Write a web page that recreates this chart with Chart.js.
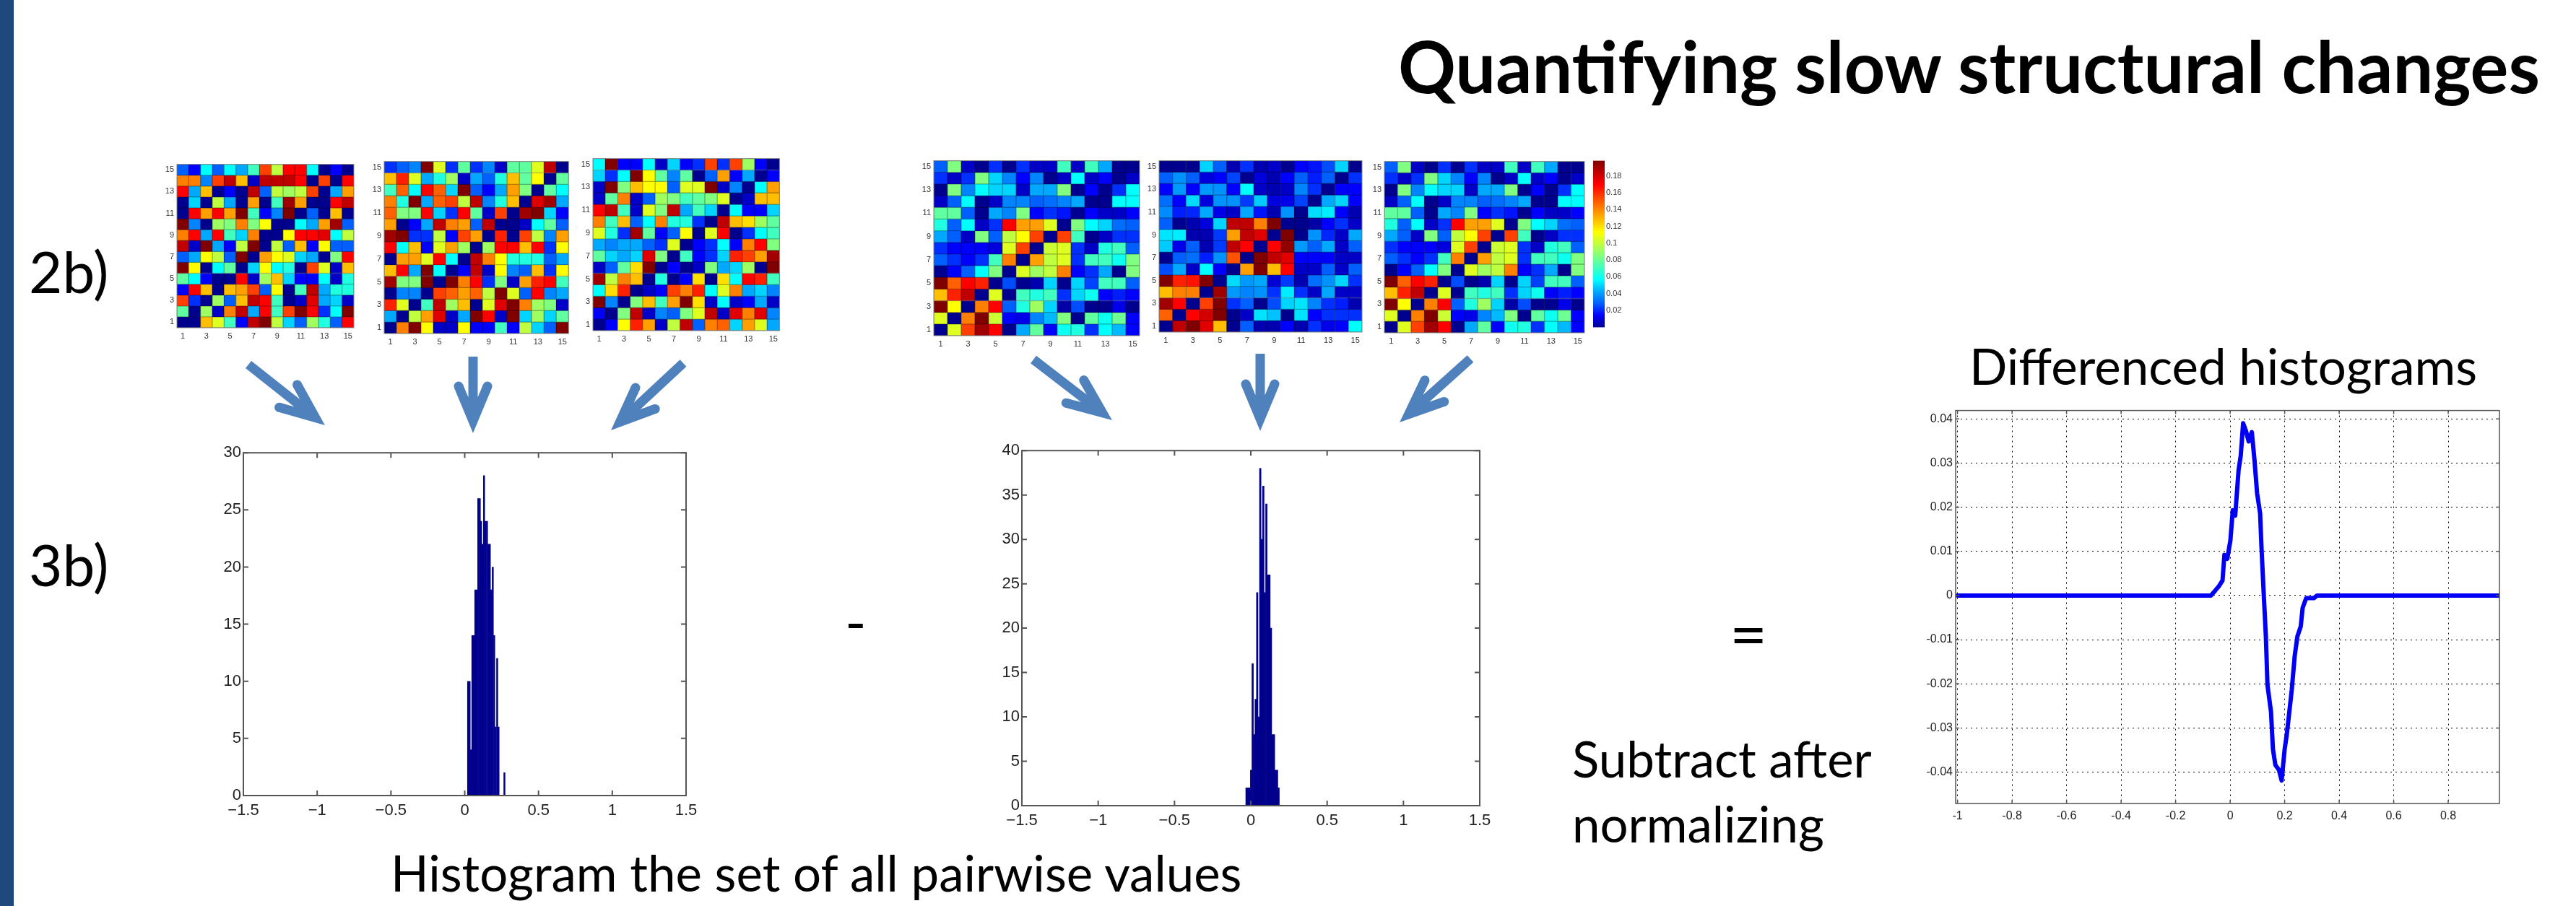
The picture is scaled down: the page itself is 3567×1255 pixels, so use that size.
<!DOCTYPE html>
<html>
<head>
<meta charset="utf-8">
<title>Quantifying slow structural changes</title>
<script src="https://cdn.jsdelivr.net/npm/chart.js@4"></script>
<style>
html, body { margin: 0; padding: 0; background: #fff; }
#slide { position: relative; width: 3567px; height: 1255px; overflow: hidden; background: #fff; }
#leftbar { position: absolute; left: 0; top: 0; width: 19px; height: 1255px; background: #1f497d; }
canvas { position: absolute; }
.heat { filter: blur(0.5px); }
.txt { position: absolute; font-family: Lato, sans-serif; color: #000; white-space: nowrap; line-height: 1; }
svg { position: absolute; left: 0; top: 0; }
</style>
</head>
<body>
<div id="slide">
  <div id="leftbar"></div>
  <div class="txt" style="left:1936px;top:41px;font-size:99px;font-weight:700;">Quantifying slow structural changes</div>
  <div class="txt" style="left:40px;top:335px;font-size:80px;">2b)</div>
  <div class="txt" style="left:40px;top:741px;font-size:80px;">3b)</div>
  <div class="txt" style="left:541px;top:1174px;font-size:69px;">Histogram the set of all pairwise values</div>
  <div class="txt" style="left:1170px;top:820px;font-size:80px;">-</div>
  <div class="txt" style="left:2395px;top:831px;font-size:90px;">=</div>
  <div class="txt" style="left:2177px;top:1016px;font-size:69px;">Subtract after</div>
  <div class="txt" style="left:2177px;top:1106px;font-size:69px;">normalizing</div>
  <div class="txt" style="left:2727px;top:472px;font-size:69px;">Differenced histograms</div>
  <svg id="arrows" width="3567" height="1255" viewBox="0 0 3567 1255"></svg>
</div>
<script>
// jet colour levels used to read the heatmaps (0 = navy ... 14 = dark red)
const jetStops = ['#00008f','#0000ff','#0060ff','#00a8ff','#00ffff','#40ffbf','#80ff80','#bfff40','#ffff00','#ffbf00','#ff7f00','#ff4000','#ff0000','#c00000','#800000'];

const rowLabels = ['1','2','3','4','5','6','7','8','9','10','11','12','13','14','15'];
const heatTicks = [1,3,5,7,9,11,13,15];

// heatmap rows, first line is row 15 (top)
const heat1 = [
  [2,1,4,2,4,3,5,11,7,12,12,4,0,1,0],
  [10,10,2.5,11,13,9,0.5,13,13,13,12,0,11,0,12],
  [12,3,9,0,1,0,13,2,7,6.5,7,11,0,3,9.5],
  [0,3.5,0,7,3,0,9.5,0,5,13.5,9.5,0,0,12,13],
  [0,12,9.5,12,9.5,14,5,1,2.5,14,0,2,0,9,0],
  [14,2.5,0,6.5,6,10,6,8,0,0,4,3,9.5,13.5,2],
  [10,12,3,12,5,3.5,10,0,0,8,12,12,12.5,4,7],
  [13,0.5,14,3,1,7,14,0,7,2,9,1,8,2,2],
  [2,3,8,7,2,14,0,9.5,8,7.5,3.5,3,0,6,12],
  [14,8,0,4,5.5,0,3.5,8,4,4.5,0,11,7.5,0.5,9],
  [5.5,4,1,0,0,12,0.5,6.5,9,3.5,1,1,4,0.5,4.5],
  [1,12,9,0,9,9.5,11,2,8,0,5,13,3,4.5,4.5],
  [11,1.5,0,6.5,2,9,13,12,5,0,0.5,12.5,3,3.5,0.5],
  [5.5,0,6.5,0.5,10,13,3,12,5,11,14,12,1.5,4,14],
  [0,0,9,7.5,5,1,13,14,7,3.5,2,6.5,4.5,2,12]
];
const heat2 = [
  [1.5,2,2.5,14,7.5,1.5,5.5,1.5,2.5,0.5,5.5,5.5,7.5,13,0],
  [9,11.5,7.5,3,4.5,6.5,0.5,3,2,4.5,9,5.5,8,0,5.5],
  [5,10.5,4,12,10.5,3.5,14,2,1,3,9.5,6,0,5.5,4],
  [10,4.5,14,3,10.5,11,7,13,2.5,4.5,9,0,12.5,13.5,3],
  [10.5,6,6,12,3.5,1.5,12,5.5,0.5,11,0,13.5,14,3.5,1],
  [9.5,0,1,3,13,10,9.5,2,13,0,0,0.5,4,5.5,2],
  [13.5,14,1.5,1.5,7,1,11,9.5,0,11.5,0,11,7,2.5,9.5],
  [12,4,9,1,7.5,9.5,6.5,0,6.5,12,12,9,12,1.5,8],
  [0,9.5,9.5,7.5,12,4,0,13,10,8,4.5,4.5,4.5,2,3],
  [9,12,3,14,4,0,1,13,0.5,8,2.5,2,9,1.5,8],
  [13.5,6,6,14,0,14,10,12,1.5,6,0.5,9.5,11.5,12,5],
  [0,2.5,2.5,0,11,10.5,9.5,10.5,7,14,7.5,2,12,2.5,3],
  [11.5,7.5,0,5,13,6.5,9,0,7.5,12.5,14,10,6.5,6,0.5],
  [3,0,7,9.5,12.5,0.5,3,14,12,0.5,14,3.5,6.5,3.5,5.5],
  [0,10,14,8,0.5,0.5,8,1,1,5,1,7,3.5,2,14]
];
const heat3 = [
  [4,14,1,1,4,0.5,3.5,1,1.5,11,1.5,11,6.5,1,0],
  [3.5,1.5,4,14,8,5.5,2.5,5.5,0,2,9.5,1,3,0,1],
  [0.5,14,6,9,8,8,2,7.5,7.5,14,0.5,2.5,0,4,9.5],
  [0.5,5.5,10,0.5,2,6.5,6,5,5.5,6,7.5,0,0.5,9,9],
  [12,13,5,0.5,7.5,6,13,3,5,3.5,0,4,1,1,3.5],
  [10,5,9,2,4,10,4.5,4.5,1.5,0,13,9,8.5,6.5,5.5],
  [7.5,4.5,1.5,13.5,5.5,1,2,8,0,7.5,12,0,1.5,4,5],
  [3,2.5,3,3,2,1.5,7.5,0,1,1.5,4,1,10,12,6],
  [5.5,3.5,3,3.5,12.5,6,0,5,1,1.5,3.5,11.5,11,9.5,13.5],
  [0.5,2,5.5,8.5,14,0,1,0,0.5,6,3,3.5,6.5,0,14],
  [13.5,7,10,9,0,4.5,0,1,8.5,0,8.5,4,12,11.5,5],
  [4,8.5,11.5,0,0.5,1,11,10,11.5,4,7.5,10,3,3.5,2.5],
  [14,2.5,0,6,9,5,9.5,14,8.5,0.5,4,0.5,1,3,0.5],
  [1,0,6,13,0.5,2.5,2,6,7.5,13,0.5,12.5,10,12.5,2.5],
  [0,1,8,11.5,9.5,0.5,7,13,2,10,10.5,3.5,9.5,7.5,3]
];
const heat4 = [
  [2,6,0.5,0,1.5,0,1.5,0.5,0.5,5,0.5,5,3,0,0],
  [1.5,0.5,1.5,6,3.5,2.5,1,2.5,0,0.5,4,0.5,1,0,0.5],
  [0,6,2.5,4,3.5,3.5,0.5,3,3,6,0,1,0,1.5,4],
  [0.5,2,4,0,0.5,2.5,2.5,2,2.2,2.5,3,0,0,4,4],
  [5.5,5.5,2,0,3,2.5,6,1,1.5,1.2,0,1,0.5,0.5,1],
  [4.5,2,4,0.5,1.5,12,9.5,9.5,7.5,0,6,4,3.5,2.2,2],
  [3,2,0.5,6,2,7,8,11,0,11,5,0,0.5,1.5,1.5],
  [1.5,1,1,1,0.7,7.5,11,0,7.2,7.5,1.5,0.5,4.5,5,2],
  [2,1.5,1,1.5,5,10,0,9.5,7,7.5,1.5,5,5,4.2,6],
  [0,1,2,4,6,0,7.5,6.5,7,10,1,1.5,3,0,6],
  [14,10.5,12,11.5,0,1.8,0,0.3,3.5,0,3.5,1.7,5,5,2],
  [9,11.5,13,0,7.5,0,5,4.5,5,1.5,3.5,4.2,1,1.3,1],
  [14,8,0,10,12,2,4.5,6.5,3.5,0.2,1.8,0,0,0.8,0],
  [7.5,0,10,14,7.2,1,0.8,2.5,3.2,6,0,5.5,4.2,5.7,1],
  [0,7.5,11,13.5,12,0,3,5.5,1,4.2,4.5,1.5,4,3.2,1]
];
const heat5 = [
  [0,0,0,3.5,2,0.3,1.5,0.3,0.5,0,1,1.2,1.8,3.5,0],
  [2,2.7,2,0.7,1,1.7,0,0.7,0.3,1,2,1.3,2,0,1.5],
  [1,2.8,1,2.8,2.7,1,4,0.5,0.3,0.5,2.5,1.5,0,1,1],
  [2.2,1,3.6,0.7,2.7,2.7,1.6,3.4,0.7,0.8,1.7,0,3,3.5,1],
  [2.6,1.3,1.4,3,0.8,0.5,3,1.2,0.3,2.7,0,3.6,3.8,1,0.3],
  [2,0,0.3,0.7,3.5,13,13,10,14,0,0,0.2,1,1.5,0.5],
  [3.7,3.8,0.3,0.3,1.6,9.5,13,12.5,0,14,0,2.7,1.4,0.5,3],
  [3.4,0.8,2,0.3,1.6,13,12,0,12,13.7,2.8,2,3,0.5,2],
  [0,2,2.2,1.3,2.7,10.7,0,14,13,12.5,1,1,1,0.5,0.5],
  [1.8,3,0.5,4,1,0,9.5,14,9,12,0.5,0.5,2,0.5,2],
  [14,11.5,11.7,14,0,3.6,2.8,3,0.6,1.6,0.3,2.2,2.7,3.5,1.5],
  [9,10,10,0,13.5,2.8,2.5,2.7,1.5,3.8,1.5,0.5,3,0.5,0.5],
  [13.5,12,0,11,14,1.5,2,0,1.8,3.5,3.7,2.5,1.5,1.3,0.3],
  [10.5,0,12,12.7,14,0,0.5,3.7,3.3,0,3.7,1,1.5,1.5,1.5],
  [0,13,14,12.5,9,0,2,0.3,0.3,1,0.3,1.5,0.8,1,4]
];

// colour bar of the last heatmap
const colorbarRange = [0, 0.198];
const colorbarTicks = [0.02,0.04,0.06,0.08,0.1,0.12,0.14,0.16,0.18];

// left histogram
const histBinsA = [0.023,0.033,0.043,0.052,0.062,0.072,0.082,0.092,0.102,0.111,0.121,0.131,0.141,0.151,0.161,0.170,0.180,0.190,0.200,0.210,0.220,0.229,0.239,0.249,0.259,0.269];
const histCountsA = [10,10,4,14,14,18,18,26,26,24,22,28,24,24,22,22,18,20,14,6,12,6,0,0,0,2];
// right histogram
const histBinsB = [-0.028,-0.018,-0.008,0.002,0.012,0.022,0.032,0.042,0.052,0.062,0.072,0.082,0.092,0.102,0.112,0.122,0.132,0.142,0.152,0.162,0.172,0.182];
const histCountsB = [2,2,2,4,16,8,12,24,10,38,30,36,24,34,26,26,20,8,8,4,4,2];
const histTicksX = [-1.5,-1,-0.5,0,0.5,1,1.5];
const histTicksYA = [0,5,10,15,20,25,30];
const histTicksYB = [0,5,10,15,20,25,30,35,40];
const baselineX = [-1,1];
const baselineY = [0,0];

// differenced histogram
const diffX = [-1,-0.0707,-0.055,-0.0415,-0.028,-0.021,-0.0106,0.001,0.0097,0.0186,0.031,0.039,0.0477,0.058,0.068,0.0795,0.089,0.099,0.11,0.115,0.122,0.131,0.137,0.15,0.157,0.166,0.179,0.189,0.2,0.208,0.226,0.237,0.247,0.259,0.266,0.279,0.307,0.319,0.988];
const diffY = [0,0,0.0011,0.0021,0.0034,0.0092,0.0083,0.0125,0.0193,0.0181,0.0284,0.0317,0.039,0.0373,0.0349,0.037,0.0309,0.0231,0.0186,0.0109,0.0019,-0.0092,-0.0203,-0.0264,-0.0348,-0.0384,-0.0395,-0.0419,-0.0348,-0.0314,-0.0214,-0.0136,-0.0092,-0.007,-0.0028,-0.0006,-0.0006,0,0];
const diffTicksX = [-1,-0.8,-0.6,-0.4,-0.2,0,0.2,0.4,0.6,0.8];
const diffTicksY = [-0.04,-0.03,-0.02,-0.01,0,0.01,0.02,0.03,0.04];

function levelColor(v, shade = 1) {
  const i = Math.min(Math.floor(v), jetStops.length - 2);
  const f = v - i;
  const a = parseInt(jetStops[i].slice(1), 16), b = parseInt(jetStops[i + 1].slice(1), 16);
  const mix = s => Math.round((((a >> s) & 255) * (1 - f) + ((b >> s) & 255) * f) * shade);
  return `rgb(${mix(16)},${mix(8)},${mix(0)})`;
}

// block arrows between the heatmaps and the histograms
function drawArrow(x1, y1, x2, y2) {
  const svg = document.getElementById('arrows');
  const len = Math.hypot(x2 - x1, y2 - y1);
  const ux = (x2 - x1) / len, uy = (y2 - y1) / len;
  const ax = x2 - ux * 17, ay = y2 - uy * 17;
  const bx = ax - ux * 48, by = ay - uy * 48;
  const px = -uy * 20, py = ux * 20;
  const p = document.createElementNS('http://www.w3.org/2000/svg', 'path');
  p.setAttribute('d', `M${x1} ${y1} L${ax} ${ay} M${bx + px} ${by + py} L${ax} ${ay} L${bx - px} ${by - py}`);
  p.setAttribute('fill', 'none');
  p.setAttribute('stroke', '#4f81bd');
  p.setAttribute('stroke-width', '13');
  p.setAttribute('stroke-linejoin', 'miter');
  p.setAttribute('stroke-miterlimit', '10');
  svg.appendChild(p);
  // round ends of the barbs, the shaft keeps its flat end
  [[bx + px, by + py], [bx - px, by - py]].forEach(([cx, cy]) => {
    const c = document.createElementNS('http://www.w3.org/2000/svg', 'circle');
    c.setAttribute('cx', cx); c.setAttribute('cy', cy); c.setAttribute('r', '6.5');
    c.setAttribute('fill', '#4f81bd');
    svg.appendChild(c);
  });
}

// matlab style box with ticks pointing inwards
const matBox = {
  id: 'matBox',
  afterDatasetsDraw(chart, args, opts) {
    const { ctx, chartArea: a, scales } = chart;
    ctx.save();
    ctx.strokeStyle = opts.color || '#555';
    ctx.lineWidth = opts.width || 2;
    ctx.strokeRect(a.left, a.top, a.right - a.left, a.bottom - a.top);
    const len = opts.tick || 0;
    if (len) {
      ctx.beginPath();
      scales.x.ticks.forEach(t => {
        const p = scales.x.getPixelForValue(t.value);
        ctx.moveTo(p, a.bottom); ctx.lineTo(p, a.bottom - len);
        ctx.moveTo(p, a.top); ctx.lineTo(p, a.top + len);
      });
      scales.y.ticks.forEach(t => {
        const p = scales.y.getPixelForValue(t.value);
        ctx.moveTo(a.left, p); ctx.lineTo(a.left + len, p);
        ctx.moveTo(a.right, p); ctx.lineTo(a.right - len, p);
      });
      ctx.stroke();
    }
    ctx.restore();
  }
};

// puts a canvas so the plot area lands on the given rectangle
function makeCanvas(plot, m, cls) {
  const c = document.createElement('canvas');
  c.width = plot.right - plot.left + m.l + m.r;
  c.height = plot.bottom - plot.top + m.t + m.b;
  c.style.left = (plot.left - m.l) + 'px';
  c.style.top = (plot.top - m.t) + 'px';
  if (cls) c.className = cls;
  document.getElementById('slide').appendChild(c);
  return c;
}

function fixedAxes(m) {
  return {
    x: s => { s.height = m.b; },
    y: s => { s.width = m.l; }
  };
}

function heatmap(rows, plot) {
  const m = { l: 22, r: 2, t: 2, b: 24 };
  const fit = fixedAxes(m);
  new Chart(makeCanvas(plot, m, 'heat'), {
    type: 'bar',
    data: {
      labels: rowLabels,
      datasets: rows.map((row, i) => {
        const r = rows.length - i;
        return {
          data: row.map(() => [r - 0.5, r + 0.5]),
          backgroundColor: row.map(v => levelColor(v)),
          borderColor: row.map(v => levelColor(v, 0.7)),
          borderWidth: 1,
          borderSkipped: false,
          barPercentage: 1,
          categoryPercentage: 1
        };
      })
    },
    options: {
      responsive: false, animation: false, devicePixelRatio: 1,
      layout: { autoPadding: false, padding: { top: m.t, right: m.r } },
      plugins: { legend: { display: false }, tooltip: { enabled: false }, matBox: { color: '#888', width: 1 } },
      scales: {
        x: {
          stacked: true, grid: { display: false, drawTicks: false }, border: { display: false }, afterFit: fit.x,
          ticks: { autoSkip: false, maxRotation: 0, padding: 5, color: '#333', font: { family: 'Liberation Sans', size: 11 },
            callback: (v, i) => (i % 2 === 0 ? rowLabels[i] : '') }
        },
        y: {
          min: 0.5, max: 15.5, grid: { display: false, drawTicks: false }, border: { display: false }, afterFit: fit.y,
          afterBuildTicks: s => { s.ticks = heatTicks.map(v => ({ value: v })); },
          ticks: { padding: 4, color: '#333', font: { family: 'Liberation Sans', size: 11 } }
        }
      }
    },
    plugins: [matBox]
  });
}

function colorbar(plot) {
  const m = { l: 2, r: 40, t: 2, b: 2 };
  new Chart(makeCanvas(plot, m, 'heat'), {
    type: 'bar',
    data: {
      labels: [''],
      datasets: [{
        data: [colorbarRange],
        backgroundColor: ctx => {
          const a = ctx.chart.chartArea;
          if (!a) return '#000';
          const g = ctx.chart.ctx.createLinearGradient(0, a.bottom, 0, a.top);
          jetStops.forEach((c, i) => g.addColorStop(i / (jetStops.length - 1), c));
          return g;
        },
        barPercentage: 1, categoryPercentage: 1
      }]
    },
    options: {
      responsive: false, animation: false, devicePixelRatio: 1,
      layout: { autoPadding: false, padding: { top: m.t, bottom: m.b, left: m.l } },
      plugins: { legend: { display: false }, tooltip: { enabled: false } },
      scales: {
        x: { display: false },
        y: {
          position: 'right', min: colorbarRange[0], max: colorbarRange[1],
          grid: { display: false, drawTicks: false }, border: { display: false },
          afterFit: s => { s.width = m.r; },
          afterBuildTicks: s => { s.ticks = colorbarTicks.map(v => ({ value: v })); },
          ticks: { padding: 2, color: '#333', font: { family: 'Liberation Sans', size: 11 }, callback: v => String(v) }
        }
      }
    }
  });
}

function histogram(bins, counts, ticksY, yMax, plot) {
  const m = { l: 44, r: 30, t: 14, b: 44 };
  const fit = fixedAxes(m);
  new Chart(makeCanvas(plot, m), {
    type: 'bar',
    data: {
      datasets: [
        {
          type: 'line', data: baselineX.map((x, i) => ({ x, y: baselineY[i] })),
          borderColor: '#3a3ab4', borderWidth: 2, pointRadius: 0, clip: false, order: 2
        },
        {
          data: bins.map((x, i) => ({ x, y: counts[i] })),
          backgroundColor: '#00008c', barPercentage: 1, categoryPercentage: 1, order: 1
        }
      ]
    },
    options: {
      responsive: false, animation: false, devicePixelRatio: 1,
      layout: { autoPadding: false, padding: { top: m.t, right: m.r } },
      plugins: { legend: { display: false }, tooltip: { enabled: false }, matBox: { color: '#555', width: 2, tick: 7 } },
      scales: {
        x: {
          type: 'linear', offset: false, min: -1.5, max: 1.5, grid: { display: false, drawTicks: false }, border: { display: false }, afterFit: fit.x,
          afterBuildTicks: s => { s.ticks = histTicksX.map(v => ({ value: v })); },
          ticks: { padding: 8, color: '#222', autoSkip: false, maxRotation: 0, font: { family: 'Liberation Sans', size: 22 },
            callback: v => String(v).replace('-', '\u2212') }
        },
        y: {
          min: 0, max: yMax, grid: { display: false, drawTicks: false }, border: { display: false }, afterFit: fit.y,
          afterBuildTicks: s => { s.ticks = ticksY.map(v => ({ value: v })); },
          ticks: { padding: 3, color: '#222', font: { family: 'Liberation Sans', size: 22 }, callback: v => String(v) }
        }
      }
    },
    plugins: [matBox]
  });
}

function diffChart(plot) {
  const m = { l: 44, r: 10, t: 6, b: 34 };
  const fit = fixedAxes(m);
  new Chart(makeCanvas(plot, m), {
    type: 'scatter',
    data: {
      datasets: [{
        data: diffX.map((x, i) => ({ x, y: diffY[i] })),
        showLine: true, borderColor: '#0000f5', borderWidth: 6, pointRadius: 0, borderJoinStyle: 'round', borderCapStyle: 'round'
      }]
    },
    options: {
      responsive: false, animation: false, devicePixelRatio: 1,
      layout: { autoPadding: false, padding: { top: m.t, right: m.r } },
      plugins: { legend: { display: false }, tooltip: { enabled: false }, matBox: { color: '#555', width: 1.5, tick: 5 } },
      scales: {
        x: {
          type: 'linear', min: -1.007, max: 0.988,
          grid: { color: '#000', lineWidth: 1, drawTicks: false }, border: { display: false, dash: [2, 5] }, afterFit: fit.x,
          afterBuildTicks: s => { s.ticks = diffTicksX.map(v => ({ value: v })); },
          ticks: { padding: 8, color: '#222', autoSkip: false, maxRotation: 0, font: { family: 'Liberation Sans', size: 16 }, callback: v => String(v) }
        },
        y: {
          min: -0.0471, max: 0.0419,
          grid: { color: '#000', lineWidth: 1, drawTicks: false }, border: { display: false, dash: [2, 5] }, afterFit: fit.y,
          afterBuildTicks: s => { s.ticks = diffTicksY.map(v => ({ value: v })); },
          ticks: { padding: 4, color: '#222', font: { family: 'Liberation Sans', size: 16 }, callback: v => String(v) }
        }
      }
    },
    plugins: [matBox]
  });
}

drawArrow(344, 505, 450, 589);
drawArrow(655, 494, 655, 600);
drawArrow(946, 503, 846, 596);
drawArrow(1431, 498, 1540, 582);
drawArrow(1745, 490, 1745, 597);
drawArrow(2036, 497, 1938, 585);

heatmap(heat1, { left: 245, right: 491, top: 219, bottom: 454 });
heatmap(heat2, { left: 532, right: 788, top: 215, bottom: 462 });
heatmap(heat3, { left: 821, right: 1080, top: 211, bottom: 458 });
heatmap(heat4, { left: 1293, right: 1578, top: 214, bottom: 465 });
heatmap(heat5, { left: 1605, right: 1886, top: 214, bottom: 460 });
heatmap(heat4, { left: 1917, right: 2194, top: 215, bottom: 461 });
colorbar({ left: 2206, right: 2222, top: 216, bottom: 460 });

histogram(histBinsA, histCountsA, histTicksYA, 30, { left: 337, right: 950, top: 625, bottom: 1102 });
histogram(histBinsB, histCountsB, histTicksYB, 40, { left: 1415, right: 2049, top: 622, bottom: 1116 });
diffChart({ left: 2708, right: 3461, top: 561, bottom: 1113 });
</script>
</body>
</html>
